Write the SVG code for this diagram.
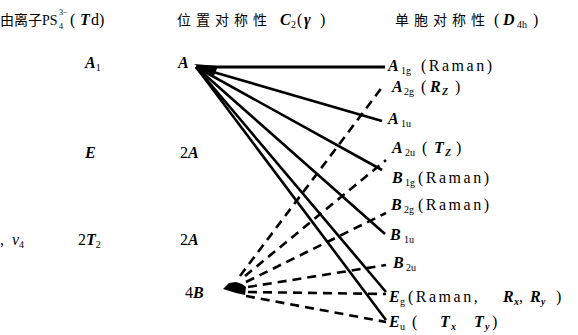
<svg xmlns="http://www.w3.org/2000/svg" width="578" height="335" viewBox="0 0 578 335" font-family="'Liberation Serif', 'DejaVu Serif', serif">
<style>
text{font-family:"Liberation Serif","DejaVu Serif",serif;font-size:16px;fill:#000}
.cn{font-family:"Noto Sans CJK SC","Noto Sans",sans-serif;font-size:14px;letter-spacing:5px}
.it{font-style:italic;font-weight:bold}
.sub{font-size:10px}
.tiny{font-size:8px}
.sp{letter-spacing:2.5px}
.solid{stroke:#000;stroke-width:2.6;fill:none}
.dash{stroke:#000;stroke-width:2.6;fill:none;stroke-dasharray:9 6}
</style>
<g id="headers">
<text x="0" y="25"><tspan class="cn" style="letter-spacing:0">由离子</tspan><tspan x="42" style="font-size:14px">PS</tspan></text>
<text x="59" y="29" class="tiny">4</text>
<text x="59" y="15" class="tiny">3−</text>
<text x="70" y="25">(<tspan class="it" x="80">T</tspan><tspan x="91">d)</tspan></text>
<text x="177" y="25"><tspan class="cn">位置对称性</tspan><tspan class="it" x="280">C</tspan><tspan class="sub" x="291" dy="3">2</tspan><tspan x="297" dy="-3">(</tspan><tspan class="it" x="304">γ</tspan><tspan x="320">)</tspan></text>
<text x="395" y="25"><tspan class="cn">单胞对称性</tspan><tspan x="494">(</tspan><tspan class="it" x="503">D</tspan><tspan class="sub" x="517" dy="3">4h</tspan><tspan x="533" dy="-3">)</tspan></text>
</g>
<g id="connectors">
<g id="solid-lines">
<path class="solid" style="stroke-width:3.2" d="M196,67 L385,67"/>
<path class="solid" d="M196,67 L382,121"/>
<path class="solid" d="M196,67 L382,170"/>
<path class="solid" d="M196,67 L385,234"/>
<path class="solid" d="M196,67 L386,292"/>
<path class="solid" d="M196,67 L386,320"/>
<path d="M194,64 L218,66 L214,76 Z" fill="#000"/>
</g>
<g id="dashed-lines">
<path class="dash" d="M240,276 L383,86"/>
<path class="dash" d="M245,276 L386,160"/>
<path class="dash" d="M246,282 L386,213"/>
<path class="dash" d="M248,287 L386,265"/>
<path class="dash" d="M248,292 L386,294"/>
<path class="dash" d="M246,296 L386,322"/>
<path id="blob" d="M223,289 L229,283 L236,282 L242,284 L246,287 L245,295 L236,293 Z" fill="#000"/>
</g>
</g>
<g id="node-free-ion">
<text x="85" y="68"><tspan class="it">A</tspan><tspan class="sub" dy="3">1</tspan></text>
<text x="85" y="158" class="it">E</text>
<text x="0" y="245">, <tspan class="it" style="font-weight:normal" x="12">ν</tspan><tspan class="sub" dy="3">4</tspan></text>
<text x="78" y="245">2<tspan class="it">T</tspan><tspan class="sub" dy="3">2</tspan></text>
</g>
<g id="node-site">
<text x="178" y="68" class="it">A</text>
<text x="180" y="158">2<tspan class="it">A</tspan></text>
<text x="180" y="245">2<tspan class="it">A</tspan></text>
<text x="185" y="298">4<tspan class="it">B</tspan></text>
</g>
<g id="node-cell">
<text x="388" y="71"><tspan class="it">A</tspan><tspan class="sub" x="401" dy="3">1g</tspan><tspan class="sp" x="421" dy="-3">(Raman)</tspan></text>
<text x="392" y="92"><tspan class="it">A</tspan><tspan class="sub" x="404" dy="3">2g</tspan><tspan x="421" dy="-3">(</tspan><tspan class="it" x="430">R</tspan><tspan class="sub it" x="442" dy="3">Z</tspan><tspan x="455" dy="-3">)</tspan></text>
<text x="388" y="124"><tspan class="it">A</tspan><tspan class="sub" x="401" dy="3">1u</tspan></text>
<text x="392" y="153"><tspan class="it">A</tspan><tspan class="sub" x="405" dy="3">2u</tspan><tspan x="422" dy="-3">(</tspan><tspan class="it" x="434">T</tspan><tspan class="sub it" x="445" dy="3">Z</tspan><tspan x="456" dy="-3">)</tspan></text>
<text x="392" y="183"><tspan class="it">B</tspan><tspan class="sub" x="405" dy="3">1g</tspan><tspan class="sp" x="418" dy="-3">(Raman)</tspan></text>
<text x="391" y="210"><tspan class="it">B</tspan><tspan class="sub" x="404" dy="3">2g</tspan><tspan class="sp" x="418" dy="-3">(Raman)</tspan></text>
<text x="390" y="240"><tspan class="it">B</tspan><tspan class="sub" x="404" dy="3">1u</tspan></text>
<text x="393" y="268"><tspan class="it">B</tspan><tspan class="sub" x="406" dy="3">2u</tspan></text>
<text x="389" y="302"><tspan class="it">E</tspan><tspan class="sub" x="400" dy="3">g</tspan><tspan class="sp" x="408" dy="-3">(Raman,</tspan><tspan class="it" x="503">R</tspan><tspan class="sub it" x="514" dy="3">x</tspan><tspan x="519" dy="-3">,</tspan><tspan class="it" x="530">R</tspan><tspan class="sub it" x="541" dy="3">y</tspan><tspan x="556" dy="-3">)</tspan></text>
<text x="389" y="327"><tspan class="it">E</tspan><tspan class="sub" x="400" dy="3">u</tspan><tspan x="412" dy="-3">(</tspan><tspan class="it" x="440">T</tspan><tspan class="sub it" x="451" dy="3">x</tspan><tspan class="it" x="474" dy="-3">T</tspan><tspan class="sub it" x="485" dy="3">y</tspan><tspan x="492" dy="-3">)</tspan></text>
</g>
</svg>
